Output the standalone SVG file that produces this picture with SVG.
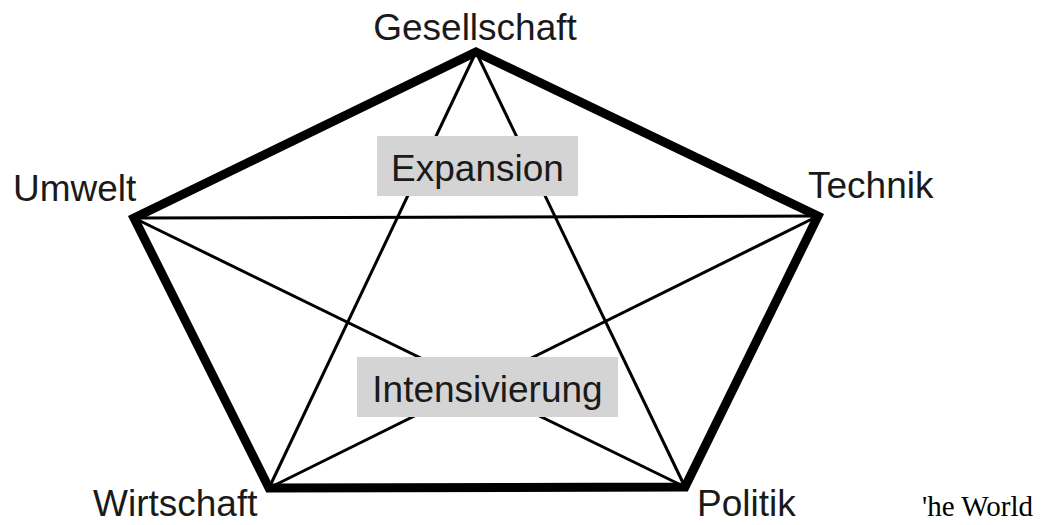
<svg xmlns="http://www.w3.org/2000/svg" width="1048" height="525" viewBox="0 0 1048 525">
<style>
.lbl{font-family:"Liberation Sans",Arial,sans-serif;font-size:37px;fill:#1a1a1a}
.outer{stroke:#000;stroke-width:9;fill:none;stroke-linejoin:miter}
.inner{stroke:#000;stroke-width:3;fill:none}
.box{fill:#d4d4d4}
</style>
<rect width="1048" height="525" fill="#fff"/>
<g id="connectors">
<polygon class="outer" points="476,52 818,216 685,487 269,488 134,218"/>
<line class="inner" x1="476" y1="52" x2="269" y2="488"/>
<line class="inner" x1="476" y1="52" x2="685" y2="487"/>
<line class="inner" x1="134" y1="218" x2="818" y2="216"/>
<line class="inner" x1="134" y1="218" x2="685" y2="487"/>
<line class="inner" x1="818" y1="216" x2="269" y2="488"/>
</g>
<g id="expansion">
<rect class="box" x="377" y="136" width="201" height="60"/>
<text class="lbl" x="477.5" y="181" text-anchor="middle">Expansion</text>
</g>
<g id="intensivierung">
<rect class="box" x="357" y="357" width="261" height="60"/>
<text class="lbl" x="487.5" y="402" text-anchor="middle">Intensivierung</text>
</g>
<g id="gesellschaft"><text class="lbl" x="475" y="40" text-anchor="middle">Gesellschaft</text></g>
<g id="umwelt"><text class="lbl" x="13" y="201">Umwelt</text></g>
<g id="technik"><text class="lbl" x="808" y="198">Technik</text></g>
<g id="wirtschaft"><text class="lbl" x="93" y="516">Wirtschaft</text></g>
<g id="politik"><text class="lbl" x="697" y="516">Politik</text></g>
<text x="922" y="516" font-family="'Liberation Serif','Times New Roman',serif" font-size="29" fill="#000">'he World</text>
</svg>
